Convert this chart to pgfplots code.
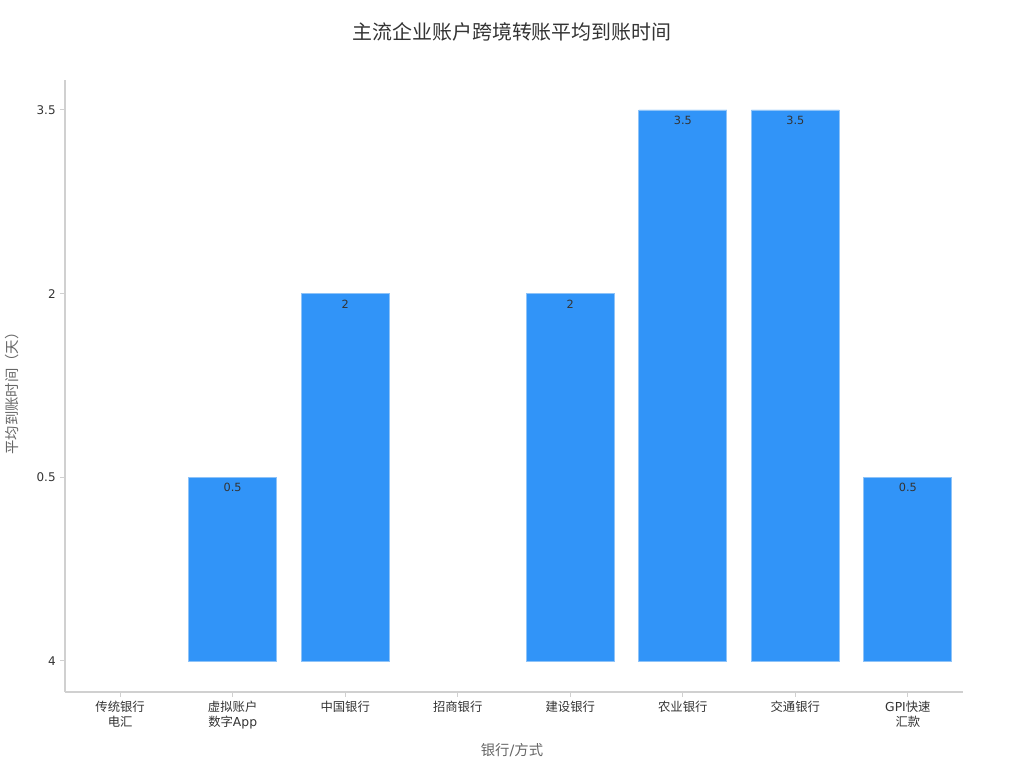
\documentclass[border=0pt]{standalone}
\usepackage{pgfplots}
\pgfplotsset{compat=1.18}
\usepackage{fontspec}
\setmainfont{DejaVu Sans}
\newfontfamily\cjk{Noto Sans CJK SC}
\definecolor{barblue}{HTML}{3194F8}
\definecolor{baredge}{HTML}{8EC3F8}
\definecolor{axgray}{HTML}{D0D0D0}
\definecolor{txtgray}{HTML}{333333}
\definecolor{labgray}{HTML}{666666}
\begin{document}
\begin{tikzpicture}
\useasboundingbox (-48.75bp,-57bp) rectangle (719.25bp,519bp);
\begin{axis}[
  at={(0,0)}, anchor=south west,
  scale only axis,
  width=673.5bp, height=459bp,
  xmin=-0.49, xmax=7.49,
  ymin=-0.169, ymax=3.163,
  axis x line*=bottom, axis y line*=left,
  axis line style={axgray, line width=0.8pt, -},
  xtick={0,...,7},
  xticklabels={{\cjk 传统银行}\\{\cjk 电汇}, {\cjk 虚拟账户}\\{\cjk 数字}App, {\cjk 中国银行}, {\cjk 招商银行}, {\cjk 建设银行}, {\cjk 农业银行}, {\cjk 交通银行}, GPI{\cjk 快速}\\{\cjk 汇款}},
  xticklabel style={align=center, font=\fontsize{9.3}{10.8}\selectfont, text=txtgray},
  ytick={0,1,2,3},
  yticklabels={4,0.5,2,3.5},
  yticklabel style={font=\fontsize{9}{10}\selectfont, text=txtgray},
  tick style={axgray, line width=0.8pt},
  tick align=outside,
  major tick length=3.5bp,
  xtick pos=bottom, ytick pos=left,
  ybar, bar width=66bp, bar shift=0pt,
  point meta=explicit symbolic,
  every node near coord/.append style={anchor=north, yshift=-1pt, font=\fontsize{8.5}{10}\selectfont, text=txtgray},
]
% zero-height bars (value 4, lowest category) leave no visible mark
\addplot[fill=none, draw=none] coordinates {
  (0,0) [4]
  (3,0) [4]
};
\addplot[fill=barblue, draw=baredge, line width=0.6pt, nodes near coords] coordinates {
  (1,1) [0.5]
  (2,2) [2]
  (4,2) [2]
  (5,3) [3.5]
  (6,3) [3.5]
  (7,1) [0.5]
};
\end{axis}
\node[font=\fontsize{15}{18}\selectfont\cjk, text=txtgray] at (335.25bp,495bp) {主流企业账户跨境转账平均到账时间};
\node[font=\fontsize{10.8}{13}\selectfont, text=labgray] at (335.25bp,-43.5bp) {{\cjk 银行}/{\cjk 方式}};
\node[font=\fontsize{10.8}{13}\selectfont\cjk, text=labgray, rotate=90] at (-39.75bp,226.5bp) {平均到账时间（天）};
\end{tikzpicture}
\end{document}
